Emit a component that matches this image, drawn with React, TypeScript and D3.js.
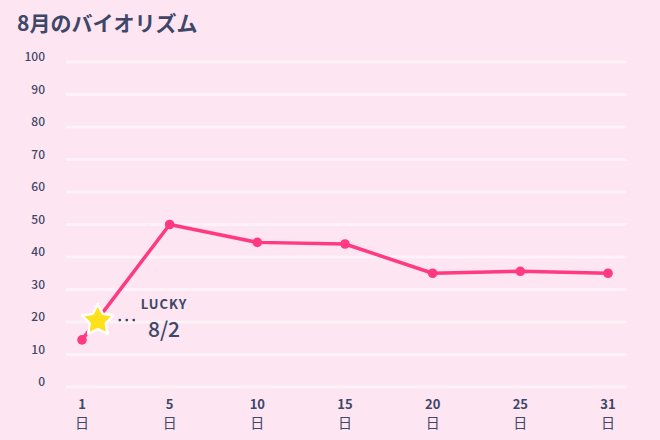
import React from "react";
import * as d3 from "d3";

const title = "8月のバイオリズム";
const days = ["1", "5", "10", "15", "20", "25", "31"];
const values = [14.5, 50, 44.5, 44, 35, 35.6, 35];
const yTicks = [0, 10, 20, 30, 40, 50, 60, 70, 80, 90, 100];
const dayUnit = "日";
const luckyLabel = "LUCKY";
const luckyDate = "8/2";

const W = 660;
const H = 440;
const BG = "#fde5f1";
const INK = "#3e4768";
const PINK = "#ff3a80";
const FONT = "'Noto Sans CJK JP', 'Noto Sans', sans-serif";

function starPath(cx: number, cy: number, R: number, r: number) {
  const pts: [number, number][] = [];
  for (let i = 0; i < 10; i++) {
    const a = -Math.PI / 2 + (i * Math.PI) / 5;
    const rad = i % 2 === 0 ? R : r;
    pts.push([cx + rad * Math.cos(a), cy + rad * Math.sin(a)]);
  }
  return d3.line()(pts) + "Z";
}

export default function App() {
  const x = d3.scalePoint<string>().domain(days).range([82, 608]);
  const y = d3.scaleLinear().domain([0, 100]).range([387, 62]);
  const pts: [number, number][] = days.map((d, i) => [x(d) as number, y(values[i])]);
  const line = d3.line();

  // star position along first segment
  const t = 0.18;
  const sx = pts[0][0] + (pts[1][0] - pts[0][0]) * t;
  const sy = pts[0][1] + (pts[1][1] - pts[0][1]) * t;

  return (
    <svg
      width={W}
      height={H}
      style={{ position: "fixed", left: 0, top: 0, display: "block" }}
      fontFamily={FONT}
    >
      <rect width={W} height={H} fill={BG} />
      <text x={17} y={31} fontSize={21} fontWeight={700} fill={INK}>
        {title}
      </text>
      {yTicks.map((v) => (
        <g key={v}>
          <line x1={66} x2={627} y1={y(v)} y2={y(v)} stroke="#fff" strokeOpacity={0.5} strokeWidth={3} />
          <text x={45} y={y(v) - 1} textAnchor="end" fontSize={12} fontWeight={500} fill={INK}>
            {v}
          </text>
        </g>
      ))}
      {days.map((d) => (
        <g key={d} transform={`translate(${x(d)},0)`}>
          <text y={409} textAnchor="middle" fontSize={13} fontWeight={700} fill={INK}>
            {d}
          </text>
          <text y={428} textAnchor="middle" fontSize={14} fill={INK}>
            {dayUnit}
          </text>
        </g>
      ))}
      <path d={line(pts) || ""} fill="none" stroke={PINK} strokeWidth={3.5} strokeLinejoin="round" />
      {pts.map((p, i) => (
        <circle key={i} cx={p[0]} cy={p[1]} r={4.8} fill={PINK} />
      ))}
      <path
        d={starPath(sx, sy + 1.5, 16.5, 8.5)}
        fill="#ffe01b"
        stroke="#fff"
        strokeWidth={2.5}
        strokeLinejoin="round"
      />
      {[0, 1, 2].map((k) => (
        <circle key={k} cx={sx + 22 + k * 7} cy={sy + 1} r={1.4} fill={INK} />
      ))}
      <text x={164} y={309} textAnchor="middle" fontSize={13} fontWeight={700} letterSpacing={1} fill={INK}>
        {luckyLabel}
      </text>
      <text x={164} y={337} textAnchor="middle" fontSize={21} fontWeight={500} fill={INK}>
        {luckyDate}
      </text>
    </svg>
  );
}
